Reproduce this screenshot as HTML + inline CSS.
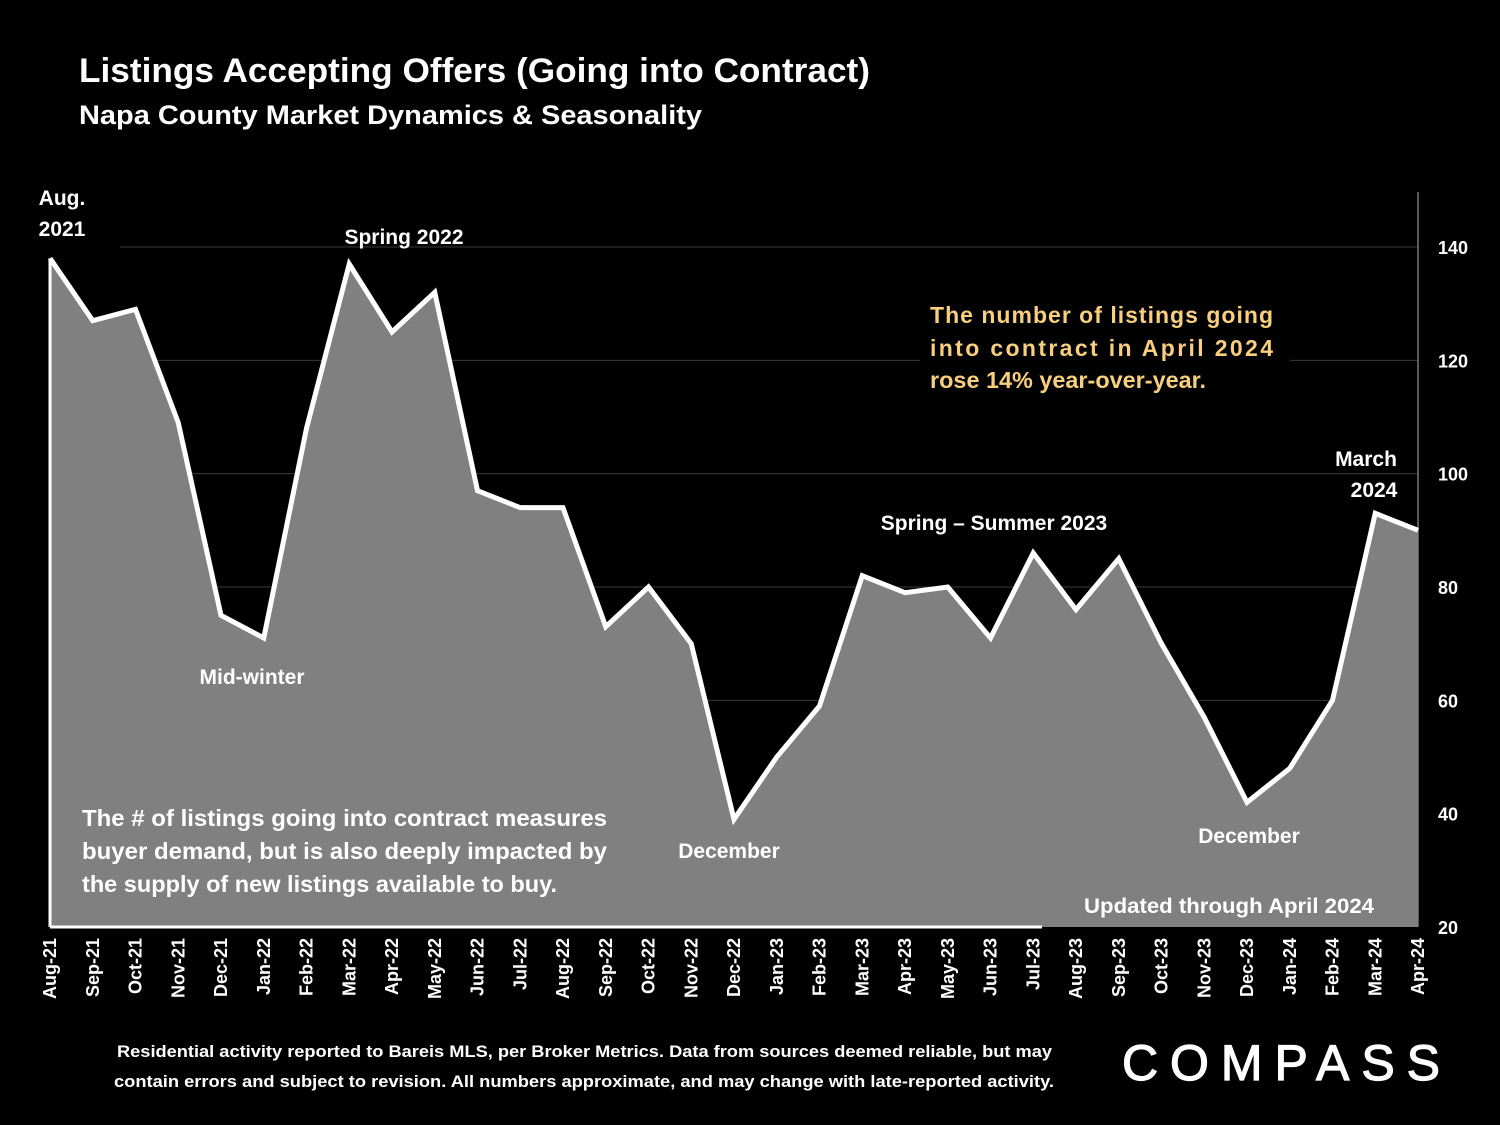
<!DOCTYPE html>
<html><head><meta charset="utf-8"><style>
body{margin:0;background:#000;}
svg{display:block;font-family:"Liberation Sans",sans-serif;}
</style></head><body>
<svg id="chart" width="1500" height="1125" viewBox="0 0 1500 1125" xmlns="http://www.w3.org/2000/svg">
<rect width="1500" height="1125" fill="#000"/>
<text x="79" y="82" fill="#fff" font-size="34" font-weight="bold" textLength="791" lengthAdjust="spacingAndGlyphs">Listings Accepting Offers (Going into Contract)</text>
<text x="79" y="124" fill="#fff" font-size="27" font-weight="bold" textLength="623" lengthAdjust="spacingAndGlyphs">Napa County Market Dynamics &amp; Seasonality</text>
<g id="grid"></g>
<g id="area"></g>
<g id="yticks"></g>
<g id="xticks"></g>
<g fill="#fff" font-size="21" font-weight="bold">
<text x="62" y="205" text-anchor="middle">Aug.</text>
<text x="62" y="236" text-anchor="middle">2021</text>
<text x="404" y="244" text-anchor="middle">Spring 2022</text>
<text x="252" y="684" text-anchor="middle">Mid-winter</text>
<text x="729" y="858" text-anchor="middle">December</text>
<text x="994" y="530" text-anchor="middle">Spring – Summer 2023</text>
<text x="1249" y="843" text-anchor="middle">December</text>
<text x="1366" y="466" text-anchor="middle">March</text>
<text x="1374" y="497" text-anchor="middle">2024</text>
<text x="1084" y="913" textLength="290" lengthAdjust="spacingAndGlyphs">Updated through April 2024</text>
<text x="82" y="826" font-size="23" textLength="525" lengthAdjust="spacingAndGlyphs">The # of listings going into contract measures</text>
<text x="82" y="859" font-size="23" textLength="525" lengthAdjust="spacingAndGlyphs">buyer demand, but is also deeply impacted by</text>
<text x="82" y="892" font-size="23" textLength="475" lengthAdjust="spacingAndGlyphs">the supply of new listings available to buy.</text>
</g>
<rect x="920" y="296" width="370" height="104" fill="#000"/>
<g fill="#f7cf7e" font-size="23" font-weight="bold">
<text x="930" y="323" textLength="343" lengthAdjust="spacing">The number of listings going</text>
<text x="930" y="356" textLength="343" lengthAdjust="spacing">into contract in April 2024</text>
<text x="930" y="388" textLength="276" lengthAdjust="spacingAndGlyphs">rose 14% year-over-year.</text>
</g>
<text fill="#fff" font-size="17" font-weight="bold"><tspan x="117" y="1057" textLength="935" lengthAdjust="spacingAndGlyphs">Residential activity reported to Bareis MLS, per Broker Metrics. Data from sources deemed reliable, but may</tspan><tspan x="114" y="1087" textLength="940" lengthAdjust="spacingAndGlyphs">contain errors and subject to revision. All numbers approximate, and may change with late-reported activity.</tspan></text>
<text x="1122" y="1080" fill="#fff" stroke="#fff" stroke-width="1.2" font-size="50" textLength="318" lengthAdjust="spacing">COMPASS</text>
</svg>
<script>
const months=["Aug-21","Sep-21","Oct-21","Nov-21","Dec-21","Jan-22","Feb-22","Mar-22","Apr-22","May-22","Jun-22","Jul-22","Aug-22","Sep-22","Oct-22","Nov-22","Dec-22","Jan-23","Feb-23","Mar-23","Apr-23","May-23","Jun-23","Jul-23","Aug-23","Sep-23","Oct-23","Nov-23","Dec-23","Jan-24","Feb-24","Mar-24","Apr-24"];
const listings=[138,127,129,109,75,71,108,137,125,132,97,94,94,73,80,70,39,50,59,82,79,80,71,86,76,85,70,57,42,48,60,93,90];
const yTicks=[20,40,60,80,100,120,140];
const NS="http://www.w3.org/2000/svg";
const x0=50,x1=1418,yMin=20,yMax=140,py0=927,py1=247;
const xs=i=>x0+i*(x1-x0)/(months.length-1);
const ys=v=>py0-(v-yMin)*(py0-py1)/(yMax-yMin);
function mk(t,a,p){const e=document.createElementNS(NS,t);for(const k in a)e.setAttribute(k,a[k]);p.appendChild(e);return e;}
const grid=document.getElementById('grid');
yTicks.forEach(v=>{if(v>20){const l=mk('line',{x1:120,x2:x1,y1:ys(v),y2:ys(v),stroke:'#3a3a3a','stroke-width':1},grid);

}
const t=mk('text',{x:1438,y:ys(v)+7,fill:'#fff','font-size':18,'font-weight':'bold'},document.getElementById('yticks'));t.textContent=v;

});
const ax=mk('line',{x1:x1,x2:x1,y1:192,y2:927,stroke:'#777','stroke-width':1.5},grid);


const area=document.getElementById('area');
let d='M'+xs(0)+','+py0;listings.forEach((v,i)=>d+=' L'+xs(i)+','+ys(v));d+=' L'+xs(listings.length-1)+','+py0+' Z';
const a=mk('path',{d:d,fill:'#808080'},area);


let ld='';listings.forEach((v,i)=>ld+=(i?' L':'M')+xs(i)+','+ys(v));
const ln=mk('path',{d:ld,fill:'none',stroke:'#fff','stroke-width':5,'stroke-linejoin':'miter'},area);


const bl=mk('line',{x1:x0,x2:1042,y1:py0,y2:py0,stroke:'#fff','stroke-width':3},area);


const vl=mk('line',{x1:x0,x2:x0,y1:ys(listings[0]),y2:py0,stroke:'#fff','stroke-width':3},area);


months.forEach((m,i)=>{const t=mk('text',{transform:`translate(${xs(i)+6},${938}) rotate(-90)`,'text-anchor':'end',fill:'#fff','font-size':18,'font-weight':'bold'},document.getElementById('xticks'));t.textContent=m;

});
</script>
</body></html>
